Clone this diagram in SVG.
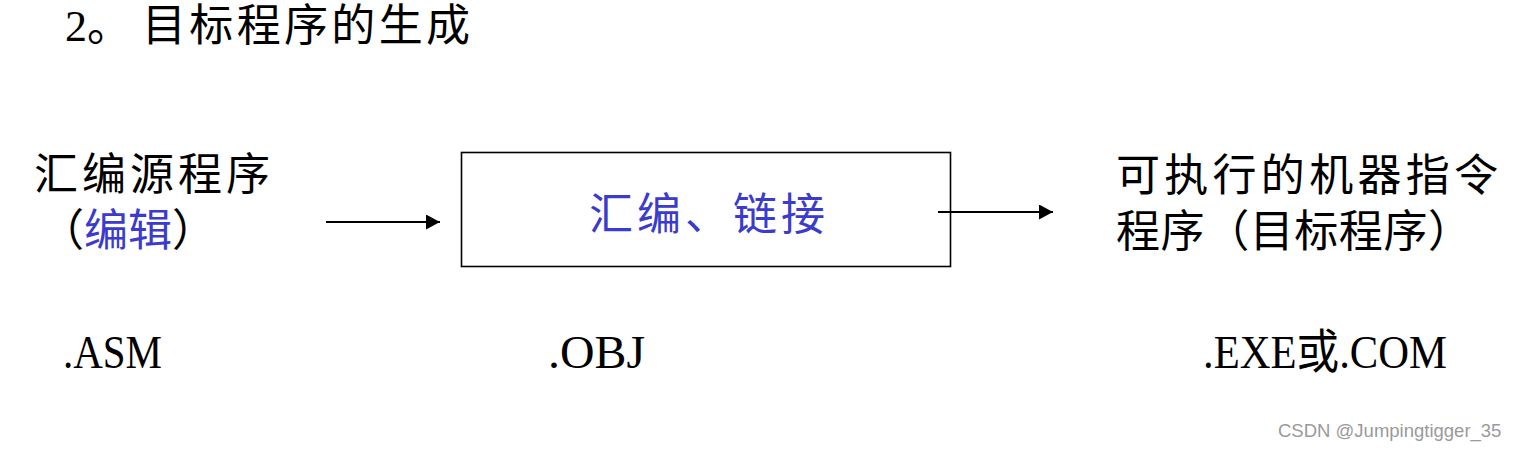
<svg xmlns="http://www.w3.org/2000/svg" width="1518" height="450" viewBox="0 0 1518 450">
<style>
.t{font-family:"Liberation Serif","Noto Sans CJK SC",serif;font-size:44px;fill:#000}
.b{fill:#3b3bcc}
.ext{font-family:"Liberation Serif","Noto Sans CJK SC",serif;font-size:47px;fill:#000}
.wm{font-family:"Liberation Sans","Noto Sans",sans-serif;font-size:18.5px;fill:#9a9a9a}
.box{fill:#fff;stroke:#000;stroke-width:1.6}
.conn{stroke:#000;stroke-width:2;fill:none}
</style>
<defs>
<marker id="ah" viewBox="0 0 14 15" refX="14" refY="7.5" markerWidth="14" markerHeight="15" markerUnits="userSpaceOnUse" orient="auto">
<path d="M0,0 L14,7.5 L0,15 z" fill="#000"/>
</marker>
</defs>
<rect width="1518" height="450" fill="#fff"/>
<g id="title">
<text class="t" x="65" y="41" font-size="46">2。</text>
<text class="t" x="142" y="41" textLength="328" lengthAdjust="spacing">目标程序的生成</text>
</g>
<g id="source">
<text class="t" x="34" y="190" textLength="236" lengthAdjust="spacing">汇编源程序</text>
<text class="t" x="40" y="246">（<tspan class="b">编辑</tspan>）</text>
<text class="ext" x="63" y="368" textLength="99" lengthAdjust="spacingAndGlyphs">.ASM</text>
</g>
<g id="assemble">
<rect class="box" x="461.5" y="152.5" width="489" height="114"/>
<text class="t b" x="589" y="230" textLength="236" lengthAdjust="spacing">汇编、链接</text>
<text class="ext" x="548" y="368" textLength="97" lengthAdjust="spacingAndGlyphs">.OBJ</text>
</g>
<g id="target">
<text class="t" x="1116" y="191" textLength="382" lengthAdjust="spacing">可执行的机器指令</text>
<text class="t" x="1116" y="247" textLength="356" lengthAdjust="spacing">程序（目标程序）</text>
<text class="ext" x="1203" y="368" textLength="244" lengthAdjust="spacingAndGlyphs">.EXE或.COM</text>
</g>
<g id="connectors">
<line class="conn" x1="326" y1="222" x2="440" y2="222" marker-end="url(#ah)"/>
<line class="conn" x1="938" y1="212" x2="1053" y2="212" marker-end="url(#ah)"/>
</g>
<text class="wm" x="1278" y="437">CSDN @Jumpingtigger_35</text>
</svg>
